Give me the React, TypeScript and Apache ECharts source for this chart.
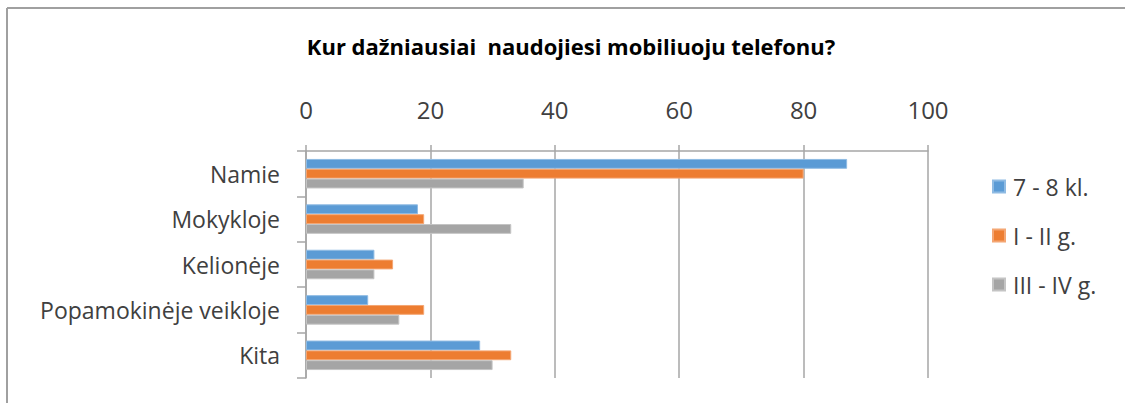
import React, { useEffect, useRef } from "react";
import * as echarts from "echarts";

const title = "Kur dažniausiai  naudojiesi mobiliuoju telefonu?";
const categories = ["Namie", "Mokykloje", "Kelionėje", "Popamokinėje veikloje", "Kita"];
const seriesNames = ["7 - 8 kl.", "I - II g.", "III - IV g."];
const values78 = [87, 18, 11, 10, 28];
const valuesI_II = [80, 19, 14, 19, 33];
const valuesIII_IV = [35, 33, 11, 15, 30];
const colors = ["#5b9bd5", "#ed7d31", "#a5a5a5"];
const borders = ["#8fbbe3", "#f4a673", "#c4c4c4"];

const FONT = "'Open Sans', Lato, sans-serif";

export default function App() {
  const ref = useRef<HTMLDivElement>(null);
  useEffect(() => {
    if (!ref.current) return;
    const chart = echarts.init(ref.current, null, { renderer: "svg" });
    const data = [values78, valuesI_II, valuesIII_IV];
    chart.setOption({
      animation: false,
      backgroundColor: "#ffffff",
      textStyle: { fontFamily: FONT },
      title: {
        text: title,
        left: 566,
        top: 30,
        textAlign: "center",
        textStyle: { fontFamily: FONT, fontSize: 22, fontWeight: "bold", color: "#000000" },
      },
      legend: {
        orient: "vertical",
        left: 987,
        top: 170,
        itemWidth: 12,
        itemHeight: 12,
        itemGap: 26,
        icon: "rect",
        data: seriesNames,
        textStyle: { fontFamily: FONT, fontSize: 23, color: "#404040", padding: [0, 0, 0, 3] },
      },
      graphic: [
        { type: "line", shape: { x1: 7, y1: 8, x2: 1125, y2: 8 }, style: { stroke: "#a0a0a0", lineWidth: 2 } },
        { type: "line", shape: { x1: 7, y1: 8, x2: 7, y2: 403 }, style: { stroke: "#a0a0a0", lineWidth: 2 } },
      ],
      grid: { left: 306, top: 151, width: 622, height: 227 },
      xAxis: {
        type: "value",
        position: "top",
        min: 0,
        max: 100,
        interval: 20,
        axisLine: { show: true, lineStyle: { color: "#a6a6a6", width: 1.5 } },
        axisTick: { show: true, length: 6, lineStyle: { color: "#a6a6a6", width: 1.5 } },
        splitLine: { show: true, lineStyle: { color: "#a6a6a6", width: 1.5 } },
        axisLabel: { fontFamily: FONT, fontSize: 24, color: "#404040", margin: 30 },
      },
      yAxis: {
        type: "category",
        inverse: true,
        data: categories,
        axisLine: { show: true, lineStyle: { color: "#a6a6a6", width: 1.5 } },
        axisTick: { show: true, length: 9, lineStyle: { color: "#a6a6a6", width: 1.5 } },
        axisLabel: { fontFamily: FONT, fontSize: 23, color: "#404040", margin: 26 },
      },
      series: seriesNames.map((name, i) => ({
        name,
        type: "bar",
        data: data[i],
        barGap: "0%",
        barCategoryGap: "35%",
        itemStyle: { color: colors[i], borderColor: borders[i], borderWidth: 1 },
      })),
    });
    return () => chart.dispose();
  }, []);
  return (
    <div
      ref={ref}
      style={{ position: "fixed", left: 0, top: 0, width: 1125, height: 403 }}
    />
  );
}
